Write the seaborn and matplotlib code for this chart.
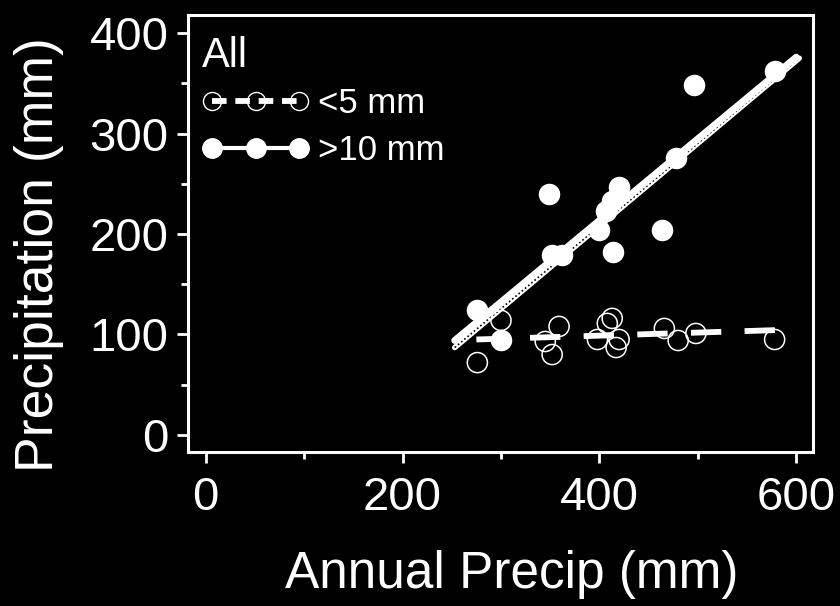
import numpy as np
import pandas as pd
import matplotlib
matplotlib.use("Agg")
import matplotlib.pyplot as plt
from matplotlib.lines import Line2D
from matplotlib.ticker import MultipleLocator
import seaborn as sns

# ---- data ----
big_x = [276, 300, 349, 352, 362, 400, 407, 413, 420, 414, 464, 478, 496, 578]
big_y = [124, 94, 240, 179, 179, 204, 223, 233, 247, 182, 204, 276, 348, 362]

small_x = [276, 300, 345, 352, 359, 398, 408, 413, 417, 420, 466, 480, 498, 578]
small_y = [72, 114, 93, 80, 108, 95, 111, 116, 87, 95, 106, 94, 101, 95]

fit_big_x = [253, 600]
fit_big_y = [94, 376]
fit_all_x = [253, 603]
fit_all_y = [87, 375]
fit_small_x = [275, 585]
fit_small_y = [95, 104.5]

x_ticks = [0, 200, 400, 600]
y_ticks = [0, 100, 200, 300, 400]

sns.set_style("dark")
plt.rcParams["font.family"] = ["Liberation Sans", "DejaVu Sans"]
plt.rcParams.update({
    "figure.facecolor": "black",
    "axes.facecolor": "black",
    "axes.edgecolor": "white",
    "text.color": "white",
    "xtick.color": "white",
    "ytick.color": "white",
    "axes.labelcolor": "white",
    "axes.grid": False,
})

fig = plt.figure(figsize=(8.4, 6.06), dpi=100)
ax = fig.add_axes([188 / 840, 1 - 452 / 606, 625 / 840, 437 / 606])

df_big = pd.DataFrame({"x": big_x, "y": big_y})
df_small = pd.DataFrame({"x": small_x, "y": small_y})
df_fb = pd.DataFrame({"x": fit_big_x, "y": fit_big_y})
df_fa = pd.DataFrame({"x": fit_all_x, "y": fit_all_y})
df_fs = pd.DataFrame({"x": fit_small_x, "y": fit_small_y})

# dotted "all" line: white band with black dots
sns.lineplot(data=df_fa, x="x", y="y", ax=ax, color="white", lw=4.0, zorder=2)
sns.lineplot(data=df_fa, x="x", y="y", ax=ax, color="black", lw=1.2,
             linestyle=(0, (1, 1.5)), zorder=2.1)
# solid >10 mm line
sns.lineplot(data=df_fb, x="x", y="y", ax=ax, color="white", lw=5.0, zorder=3)
# dashed <5 mm line
sns.lineplot(data=df_fs, x="x", y="y", ax=ax, color="white", lw=4.2,
             linestyle=(0, (5.2, 4.0)), zorder=3)

sns.scatterplot(data=df_small, x="x", y="y", ax=ax, s=210, marker="o",
                facecolor="none", edgecolor="white", linewidth=1.1, zorder=4)
sns.scatterplot(data=df_big, x="x", y="y", ax=ax, s=240, marker="o",
                color="white", edgecolor="white", linewidth=0, zorder=5)

ax.set_xlim(-18, 617)
ax.set_ylim(-17, 418)
ax.set_xticks(x_ticks)
ax.set_yticks(y_ticks)
ax.xaxis.set_minor_locator(MultipleLocator(100))
ax.yaxis.set_minor_locator(MultipleLocator(50))
ax.tick_params(which="major", direction="out", length=8, width=2,
               labelsize=34, pad=6, bottom=True, left=True)
ax.tick_params(axis="x", which="major", pad=9)
ax.tick_params(which="minor", direction="out", length=5, width=2,
               bottom=True, left=True)
for s in ax.spines.values():
    s.set_color("white")
    s.set_linewidth(2.2)
    s.set_visible(True)

ax.set_xlabel("Annual Precip (mm)", fontsize=37)
ax.set_ylabel("Precipitation (mm)", fontsize=38.5)
ax.xaxis.set_label_coords((512 - 188) / 625, -(550 - 452) / 437)
ax.yaxis.set_label_coords(-(188 - 64) / 625, (452 - 255) / 437)

h_small = Line2D([], [], color="white", lw=4.2, linestyle=(0, (2.5, 1.5)),
                 marker="o", markersize=13, markerfacecolor="none",
                 markeredgecolor="white", markeredgewidth=1.0)
h_big = Line2D([], [], color="white", lw=3, marker="o", markersize=14,
               markerfacecolor="white", markeredgecolor="white")
leg = ax.legend([h_small, h_big], ["<5 mm", ">10 mm"], title="All",
                loc="upper left", bbox_to_anchor=(0.022, 0.952),
                frameon=False, numpoints=3, handlelength=3.1,
                handletextpad=0.25, labelspacing=0.4, borderpad=0,
                borderaxespad=0, fontsize=25, title_fontsize=30)
leg._legend_box.align = "left"
leg._legend_box.sep = 8
leg.get_title().set_color("white")
for t in leg.get_texts():
    t.set_color("white")

fig.savefig("out.png", dpi=100, facecolor="black")
